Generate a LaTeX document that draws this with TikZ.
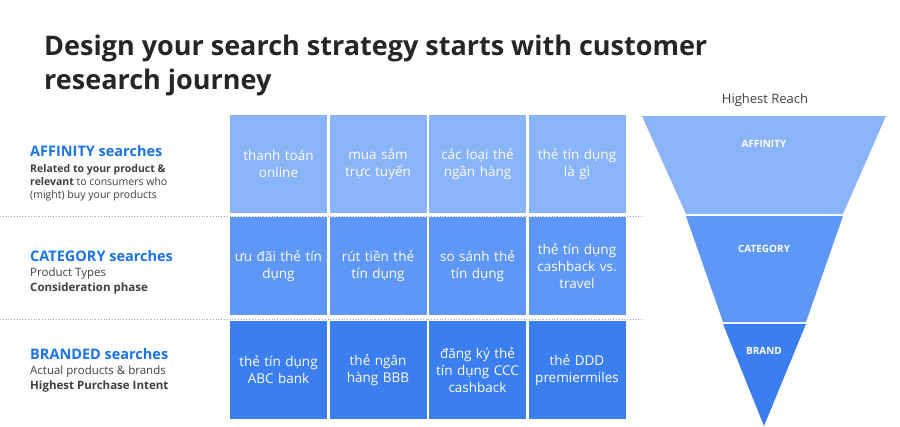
\documentclass[tikz,border=0pt]{standalone}
\usepackage{fontspec}
\setmainfont{Open Sans}
\usetikzlibrary{positioning}
\definecolor{gblue}{HTML}{1A73E8}
\definecolor{rowA}{HTML}{8AB4F8}
\definecolor{rowB}{HTML}{5E97F6}
\definecolor{rowC}{HTML}{3B7EF0}
\definecolor{gtext}{HTML}{3C4043}
\tikzset{
  cell/.style={minimum width=97pt, minimum height=98pt, inner sep=0pt, text=white,
    align=center, text width=94pt, font=\fontsize{13.5}{17}\selectfont},
  headline/.style={anchor=north west, align=left, inner sep=0pt, text=gtext,
    font=\fontsize{11.5}{15}\selectfont},
  funnel/.style={text=white, font=\bfseries\fontsize{10}{12}\selectfont}
}
\begin{document}
\begin{tikzpicture}[x=1pt, y=-1pt]
	\useasboundingbox (0,0) rectangle (900,426);
	\fill[white] (0,0) rectangle (900,426);
	
	\node[anchor=west, inner sep=0pt, font=\bfseries\fontsize{27}{34}\selectfont, align=left, text=black!85] (title) at (44,65)
	  {Design your search strategy starts with customer\\research journey};
	
	% grid cells
	\foreach \t [count=\i] in {thanh toán\\online, mua sắm\\trực tuyến, các loại thẻ\\ngân hàng, thẻ tín dụng\\là gì}
	  \node[cell, fill=rowA] (a\i) at ({229+49.5+99.5*(\i-1)},164) {\t};
	\foreach \t [count=\i] in {ưu đãi thẻ tín\\dụng, rút tiền thẻ\\tín dụng, so sánh thẻ\\tín dụng, thẻ tín dụng\\cashback vs.\\travel}
	  \node[cell, fill=rowB] (b\i) at ({229+49.5+99.5*(\i-1)},266) {\t};
	\foreach \t [count=\i] in {thẻ tín dụng\\ABC bank, thẻ ngân\\hàng BBB, đăng ký thẻ\\tín dụng CCC\\cashback, thẻ DDD\\premiermiles}
	  \node[cell, fill=rowC] (c\i) at ({229+49.5+99.5*(\i-1)},370) {\t};
	
	% separators
	\draw[dotted, gray!70, line width=0.8pt] (0,216) -- (642,216);
	\draw[dotted, gray!70, line width=0.8pt] (0,319) -- (642,319);
	
	% left labels
	\node[headline] (aff) at (30,145) {\textcolor{gblue}{\bfseries\fontsize{14.5}{17}\selectfont AFFINITY searches}\\[1pt]
	  {\fontsize{10.5}{13}\selectfont\bfseries Related to your product \&}\\[-2pt]
	  {\fontsize{10.5}{13}\selectfont\textbf{relevant} to consumers who}\\[-2pt]
	  {\fontsize{10.5}{13}\selectfont (might) buy your products}};
	\node[headline] (cat) at (30,250) {\textcolor{gblue}{\bfseries\fontsize{14.5}{17}\selectfont CATEGORY searches}\\
	  Product Types\\ \textbf{Consideration phase}};
	\node[headline] (brd) at (30,348) {\textcolor{gblue}{\bfseries\fontsize{14.5}{17}\selectfont BRANDED searches}\\
	  Actual products \& brands\\ \textbf{Highest Purchase Intent}};
	
	% funnel
	\node[font=\fontsize{13}{15}\selectfont, text=gtext] (reach) at (765,100) {Highest Reach};
	\fill[rowA] (642,116) -- (886,116) -- (843,214) -- (686,214) -- cycle;
	\fill[rowB] (686,216) -- (843,216) -- (806,322) -- (723,322) -- cycle;
	\fill[rowC] (723,324) -- (806,324) -- (764,426) -- cycle;
	\node[funnel] (fa) at (764,144) {AFFINITY};
	\node[funnel] (fb) at (764,249) {CATEGORY};
	\node[funnel] (fc) at (764,351) {BRAND};
\end{tikzpicture}
\end{document}
